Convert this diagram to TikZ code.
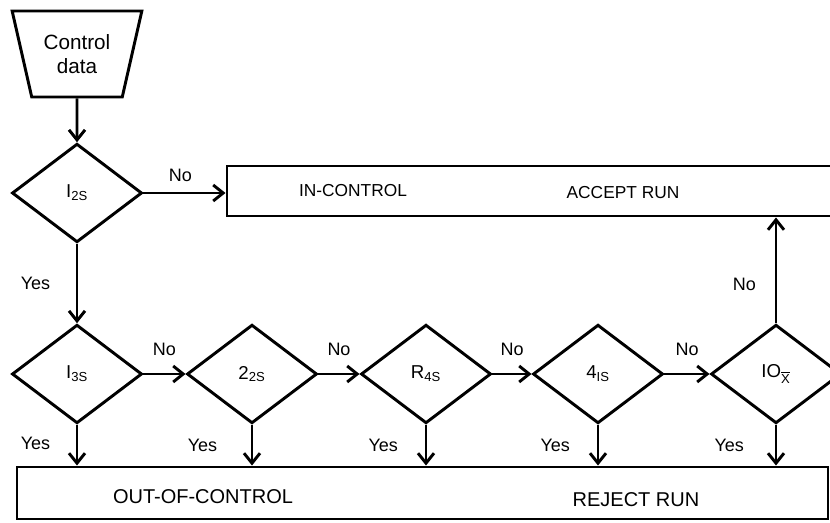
\documentclass[tikz,border=0pt]{standalone}
\usepackage{fontspec}
\setmainfont{Liberation Sans}
\usetikzlibrary{shapes.geometric,arrows.meta,positioning}

\tikzset{
  dia/.style={draw, diamond, line width=2.2pt, minimum width=97.5pt, minimum height=74pt, inner sep=0pt, font=\fontsize{14}{16}\selectfont},
  bigbox/.style={draw, rectangle, line width=2.2pt, inner sep=0pt},
  lbl/.style={inner sep=0pt, font=\fontsize{13.5}{15}\selectfont},
  flow/.style={line width=2.2pt, -{Straight Barb[length=7.5pt,width=12pt]}},
}

\begin{document}
\begin{tikzpicture}[x=0.75pt,y=0.75pt,yscale=-1,xscale=1]
\useasboundingbox (0,0) rectangle (830,523);
\clip (0,0) rectangle (830,523);
%Shape: Trapezoid
\node [draw, trapezium, shape border rotate=180, trapezium stretches=true, trapezium angle=71, minimum width=97.5pt, minimum height=64.5pt, line width=2.2pt, align=center, font=\fontsize{15.5}{17.5}\selectfont] (data) at (77,54) {Control\\data};
%Shape: Diamond
\node [dia] (i2s) at (77,193) {I\textsubscript{2S}};
%Shape: Diamond
\node [dia] (i3s) at (77,374) {I\textsubscript{3S}};
%Shape: Diamond
\node [dia] (two2s) at (252,374) {2\textsubscript{2S}};
%Shape: Diamond
\node [dia] (r4s) at (426,374) {R\textsubscript{4S}};
%Shape: Diamond
\node [dia] (four1s) at (598,374) {4\textsubscript{IS}};
%Shape: Diamond
\node [dia] (iox) at (776,374) {IO\textsubscript{$\overline{\hbox{X}}$}};
%Shape: Rectangle
\node [bigbox, minimum width=459.75pt, minimum height=37.5pt] (inbox) at (533.5,191) {};
%Shape: Rectangle
\node [bigbox, minimum width=608.25pt, minimum height=39pt] (outbox) at (422.5,493) {};
% Text Node
\node [lbl, font=\fontsize{13}{15}\selectfont] (inctl) at (353,191) {IN-CONTROL};
% Text Node
\node [lbl, font=\fontsize{13}{15}\selectfont] (accept) at (623,193) {ACCEPT RUN};
% Text Node
\node [lbl, font=\fontsize{15}{17}\selectfont] (outctl) at (203,497) {OUT-OF-CONTROL};
% Text Node
\node [lbl, font=\fontsize{15}{17}\selectfont] (reject) at (636,500) {REJECT RUN};
%Straight Lines
\draw [flow] (data.south) -- (i2s.north);
\draw [flow] (i2s.east) -- node [lbl, pos=0.45, above=7.5pt] {No} (i2s.east -| inbox.west);
\draw [flow] (i2s.south) -- node [lbl, left=19pt] {Yes} (i3s.north);
\draw [flow] (i3s.east) -- node [lbl, above=12.5pt] {No} (two2s.west);
\draw [flow] (two2s.east) -- node [lbl, above=12.5pt] {No} (r4s.west);
\draw [flow] (r4s.east) -- node [lbl, above=12.5pt] {No} (four1s.west);
\draw [flow] (four1s.east) -- node [lbl, above=12.5pt] {No} (iox.west);
\draw [flow] (iox.north) -- node [lbl, pos=0.37, left=14pt] {No} (iox.north |- inbox.south);
%Straight Lines
\draw [flow] (i3s.south) -- node [lbl, pos=0.45, left=19pt] {Yes} (i3s.south |- outbox.north);
\draw [flow] (two2s.south) -- node [lbl, pos=0.5, left=25pt] {Yes} (two2s.south |- outbox.north);
\draw [flow] (r4s.south) -- node [lbl, pos=0.5, left=20pt] {Yes} (r4s.south |- outbox.north);
\draw [flow] (four1s.south) -- node [lbl, pos=0.5, left=20pt] {Yes} (four1s.south |- outbox.north);
\draw [flow] (iox.south) -- node [lbl, pos=0.5, left=23pt] {Yes} (iox.south |- outbox.north);
\end{tikzpicture}
\end{document}
